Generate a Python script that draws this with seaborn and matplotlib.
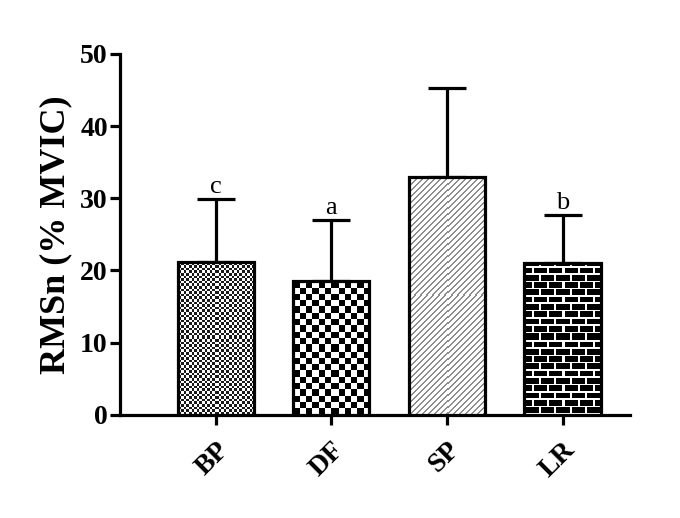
import numpy as np
import pandas as pd
import matplotlib
matplotlib.use("Agg")
import matplotlib.pyplot as plt
import seaborn as sns

categories = ["BP", "DF", "SP", "LR"]
means = [21.2, 18.6, 33.0, 21.1]
sds = [8.7, 8.4, 12.3, 6.6]
letters = ["c", "a", "", "b"]
y_ticks = [0, 10, 20, 30, 40, 50]

sns.set_theme(style="ticks")
plt.rcParams["font.family"] = ["Liberation Serif", "DejaVu Serif"]

df = pd.DataFrame({"cat": categories, "val": means})
fig = plt.figure(figsize=(6.8, 5.18), dpi=100)
ax = fig.add_axes([0.176, 0.199, 0.75, 0.697])

sns.barplot(data=df, x="cat", y="val", order=categories, width=0.66,
            color="white", edgecolor="black", linewidth=2.3, ax=ax, zorder=3)

xs = np.arange(len(categories))
ax.errorbar(xs, means, yerr=[np.zeros(len(sds)), sds], fmt="none",
            ecolor="black", elinewidth=2.3, capsize=13.5, capthick=2.3, zorder=2)
for x, m, s, l in zip(xs, means, sds, letters):
    if l:
        ax.annotate(l, (x, m + s), xytext=(0, 1), textcoords="offset points",
                    ha="center", va="bottom", fontsize=19, color="black")

ax.set_ylim(0, 50)
ax.set_xlim(-0.83, 3.58)
ax.set_yticks(y_ticks)
ax.set_xlabel("")
ax.set_ylabel("RMSn (% MVIC)", fontsize=26, fontweight="bold", labelpad=6,
              color="black")
sns.despine(ax=ax)
for sp in ["left", "bottom"]:
    ax.spines[sp].set_linewidth(2.3)
    ax.spines[sp].set_color("black")
ax.tick_params(axis="both", width=2.3, length=7, labelsize=20,
               color="black", labelcolor="black")
ax.tick_params(axis="x", pad=9)
ax.tick_params(axis="y", pad=1.5)
for t in ax.get_yticklabels():
    t.set_fontweight("bold")
for t in ax.get_xticklabels():
    t.set_fontweight("bold")
    t.set_rotation(45)
    t.set_ha("right")
    t.set_rotation_mode("anchor")

# pattern fills
fig.canvas.draw()
def pattern(kind, w, h):
    yy, xx = np.mgrid[0:h, 0:w]
    if kind == "fine":
        c = 2.6
        return (((xx // c) + (yy // c)) % 2 == 0).astype(float) * 0.9
    if kind == "check":
        c = 6.3
        return (((xx // c).astype(int) + (yy // c).astype(int)) % 2 == 0).astype(float)
    if kind == "diag":
        v = ((xx - yy) % 6 < 1.3).astype(float) * 0.45
        return v
    if kind == "brick":
        rh, bw = 7.3, 15
        row = (yy // rh).astype(int)
        mortar_h = (yy % rh) < 1.6
        off = np.where(row % 2 == 0, 0, bw / 2)
        mortar_v = ((xx + off) % bw) < 1.6
        return 1.0 - (mortar_h | mortar_v).astype(float)
kinds = ["fine", "check", "diag", "brick"]
for p, k in zip(ax.patches, kinds):
    bb = p.get_window_extent()
    w, h = int(round(bb.width)), int(round(bb.height))
    img = pattern(k, max(w, 1), max(h, 1))
    x0, y0 = p.get_x(), p.get_y()
    im = ax.imshow(img, cmap="gray_r", vmin=0, vmax=1, interpolation="nearest",
                   extent=[x0, x0 + p.get_width(), y0, y0 + p.get_height()],
                   origin="lower", aspect="auto", zorder=3.5)
    im.set_clip_path(p)
    p.set_facecolor("none")
    p.set_zorder(4)
ax.set_xlim(-0.83, 3.58)
ax.set_ylim(0, 50)

fig.savefig("out.png", dpi=100)
